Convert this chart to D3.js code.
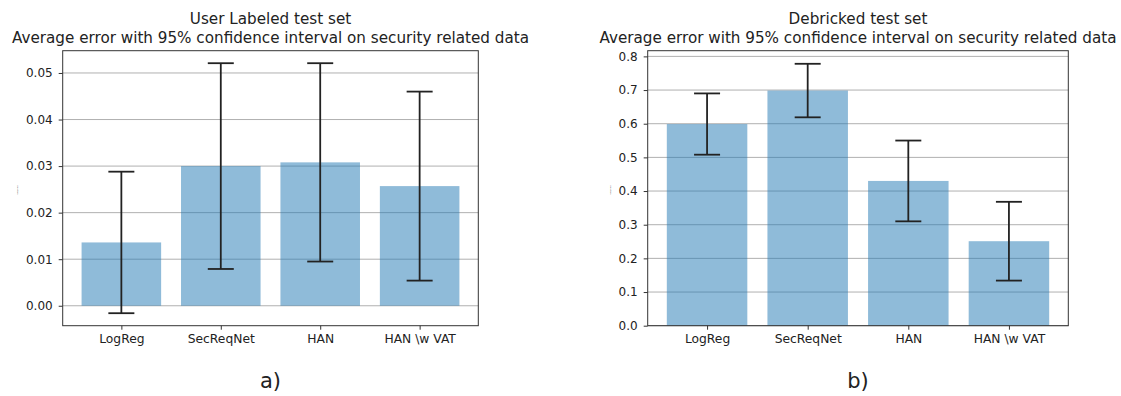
<!DOCTYPE html>
<html>
<head>
<meta charset="utf-8">
<script src="https://cdn.jsdelivr.net/npm/d3@7"></script>
<style>
  body { margin: 0; background: #fff; }
  svg text { font-family: "DejaVu Sans", sans-serif; fill: #222; }
  .tick line { stroke: #333; }
  .domain { display: none; }
</style>
</head>
<body>
<svg id="fig" width="1121" height="396"></svg>
<script>
// categories
var models = ["LogReg", "SecReqNet", "HAN", "HAN \\w VAT"];

// user labeled test set: mean error and half width of 95% CI
var userMeans = [0.0136, 0.0300, 0.0308, 0.0257];
var userErr = [0.0152, 0.0221, 0.0213, 0.0203];

// debricked test set
var debMeans = [0.599, 0.6985, 0.430, 0.251];
var debErr = [0.091, 0.0795, 0.120, 0.117];

var userTicks = [0.00, 0.01, 0.02, 0.03, 0.04, 0.05];
var debTicks = [0.0, 0.1, 0.2, 0.3, 0.4, 0.5, 0.6, 0.7, 0.8];

var svg = d3.select("#fig");

var plotTop = 50.7, plotBottom = 325.7;

function drawPanel(opt) {
  var g = svg.append("g");
  var left = opt.left, right = opt.right;
  var cx = (left + right) / 2;

  // x scale, matplotlib style margins around the bars
  var x = d3.scaleLinear().domain([-0.59, 3.59]).range([left, right]);

  // y domain, 5% margin, sticky at zero when nothing goes below
  var lo = Math.min(0, d3.min(opt.means, function (d, i) { return d - opt.err[i]; }));
  var hi = d3.max(opt.means, function (d, i) { return d + opt.err[i]; });
  var span = hi - lo;
  var y = d3.scaleLinear()
    .domain([lo < 0 ? lo - 0.05 * span : 0, hi + 0.05 * span])
    .range([plotBottom, plotTop]);

  // grid
  g.selectAll(".grid")
    .data(opt.ticks)
    .enter()
    .append("line")
    .attr("x1", left).attr("x2", right)
    .attr("y1", function (d) { return y(d); })
    .attr("y2", function (d) { return y(d); })
    .attr("stroke", "#b0b0b0")
    .attr("stroke-width", 1);

  // bars
  g.selectAll(".bar")
    .data(opt.means)
    .enter()
    .append("rect")
    .attr("x", function (d, i) { return x(i - 0.4); })
    .attr("width", x(0.4) - x(-0.4))
    .attr("y", function (d) { return y(d); })
    .attr("height", function (d) { return y(0) - y(d); })
    .attr("fill", "#1f77b4")
    .attr("fill-opacity", 0.5);

  // error bars
  var eb = g.selectAll(".err")
    .data(opt.means)
    .enter()
    .append("g")
    .attr("stroke", "#222")
    .attr("stroke-width", 1.8);

  eb.append("line")
    .attr("x1", function (d, i) { return x(i); })
    .attr("x2", function (d, i) { return x(i); })
    .attr("y1", function (d, i) { return y(d + opt.err[i]); })
    .attr("y2", function (d, i) { return y(d - opt.err[i]); });

  [1, -1].forEach(function (s) {
    eb.append("line")
      .attr("x1", function (d, i) { return x(i) - 13; })
      .attr("x2", function (d, i) { return x(i) + 13; })
      .attr("y1", function (d, i) { return y(d + s * opt.err[i]); })
      .attr("y2", function (d, i) { return y(d + s * opt.err[i]); });
  });

  // axes
  g.append("g")
    .attr("transform", "translate(0," + plotBottom + ")")
    .call(d3.axisBottom(x).tickValues([0, 1, 2, 3])
      .tickFormat(function (i) { return models[i]; })
      .tickSize(4).tickPadding(5))
    .selectAll("text")
    .style("font-size", "12.3px");

  g.append("g")
    .attr("transform", "translate(" + left + ",0)")
    .call(d3.axisLeft(y).tickValues(opt.ticks)
      .tickFormat(d3.format(opt.fmt))
      .tickSize(4).tickPadding(6))
    .selectAll("text")
    .style("font-size", "12px");

  // frame
  g.append("rect")
    .attr("x", left).attr("y", plotTop)
    .attr("width", right - left).attr("height", plotBottom - plotTop)
    .attr("fill", "none")
    .attr("stroke", "#333")
    .attr("stroke-width", 1);

  // tiny y label
  g.append("text")
    .attr("transform", "translate(" + opt.ylabX + ",190) rotate(-90)")
    .attr("text-anchor", "middle")
    .style("font-size", "1.4px")
    .style("fill", "#555")
    .text("Average error");

  // titles
  g.append("text")
    .attr("x", cx).attr("y", 23.5)
    .attr("text-anchor", "middle")
    .style("font-size", "15.2px")
    .text(opt.title);
  g.append("text")
    .attr("x", cx).attr("y", 42.5)
    .attr("text-anchor", "middle")
    .style("font-size", "15.2px")
    .text("Average error with 95% confidence interval on security related data");

  g.append("text")
    .attr("x", cx).attr("y", 388)
    .attr("text-anchor", "middle")
    .style("font-size", "21px")
    .text(opt.label);
}

drawPanel({
  left: 62.7, right: 478.3, means: userMeans, err: userErr,
  ticks: userTicks, fmt: ".2f", title: "User Labeled test set", label: "a)", ylabX: 18
});

drawPanel({
  left: 647.7, right: 1068.3, means: debMeans, err: debErr,
  ticks: debTicks, fmt: ".1f", title: "Debricked test set", label: "b)", ylabX: 611
});
</script>
</body>
</html>
